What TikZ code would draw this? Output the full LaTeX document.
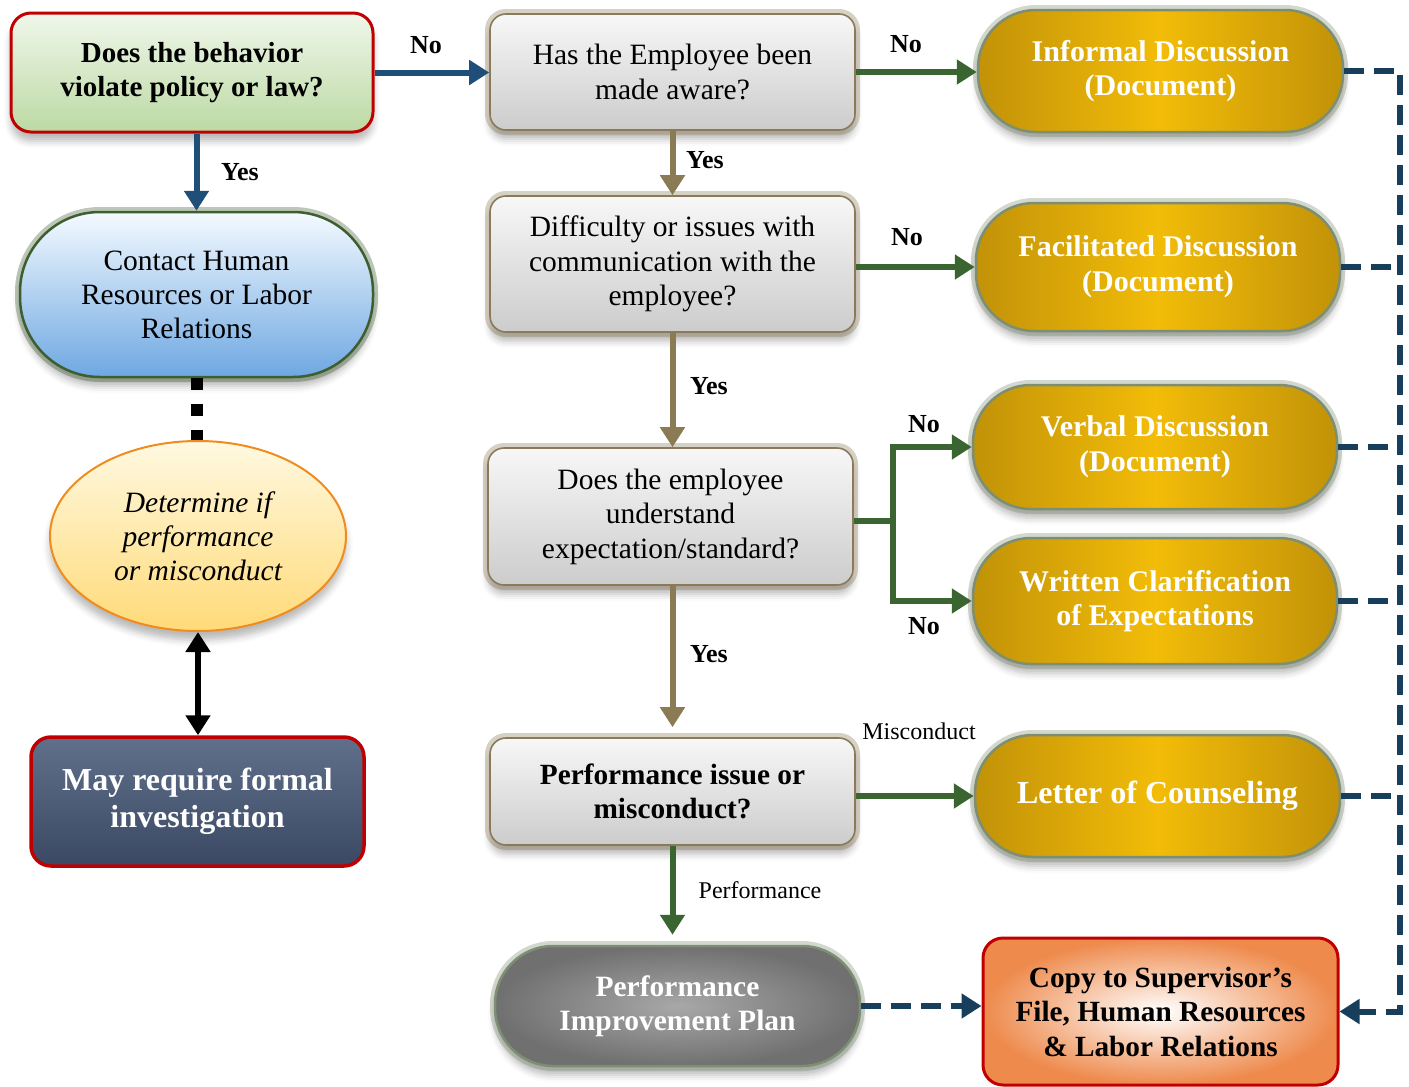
\documentclass[tikz,border=0pt]{standalone}
\usepackage{fontspec}
\setmainfont{Liberation Serif}
\usetikzlibrary{shapes.geometric,arrows.meta,calc,shadows.blur}
\newcommand\fsz[2]{\fontsize{#1}{#2}\selectfont}
\definecolor{redB}{HTML}{C00000}
\definecolor{qB}{HTML}{8A7A5A}
\definecolor{goldD}{HTML}{C29208}
\definecolor{goldL}{HTML}{F2BC08}
\definecolor{glowG}{HTML}{7E8E72}
\definecolor{conG}{HTML}{3E5E30}
\definecolor{arBlue}{HTML}{1F4E79}
\definecolor{arGreen}{HTML}{3B6530}
\definecolor{arBrown}{HTML}{8B7B55}
\definecolor{dashB}{HTML}{173F5C}
\definecolor{aTop}{HTML}{F0F7EB}
\definecolor{aBot}{HTML}{BCD9A3}
\definecolor{cTop}{HTML}{F4FAFF}
\definecolor{cBot}{HTML}{6EA8E2}
\definecolor{eDraw}{HTML}{F08C1E}
\definecolor{eTop}{HTML}{FFF9E1}
\definecolor{eBot}{HTML}{FFDA78}
\definecolor{mTop}{HTML}{60708A}
\definecolor{mBot}{HTML}{3A4864}
\definecolor{pIn}{HTML}{A8A8A8}
\definecolor{pOut}{HTML}{707070}
\definecolor{cpOut}{HTML}{EE8A4C}
\begin{document}
\begin{tikzpicture}[x=1pt,y=-1pt,
  shadowed/.style={blur shadow={shadow xshift=0pt,shadow yshift=-9pt,shadow opacity=28,shadow blur radius=7pt}},
  glow/.style={preaction={draw=#1,line width=10pt,draw opacity=0.35}},
  qbox/.style={rectangle,rounded corners=16pt,draw=qB,line width=1.6pt,top color=white!97!black,bottom color=white!80!black,
     minimum width=365pt,inner sep=0pt,align=center,font=\fsz{29.5}{34.5},shadowed,glow=qB},
  goldpill/.style={rectangle,rounded corners=58pt,draw=glowG,line width=2.5pt,left color=goldD,right color=goldD,middle color=goldL,
     minimum width=364pt,inner sep=0pt,align=center,text=white,font=\bfseries\fsz{30}{34.5},shadowed,glow=glowG},
  lbl/.style={font=\bfseries\fsz{26}{30},inner sep=0pt},
  slbl/.style={font=\fsz{24}{28},inner sep=0pt},
  arr/.style={line width=6pt,-{Triangle[width=24pt,length=20pt]}},
  dsh/.style={line width=6pt,draw=dashB,dash pattern=on 20pt off 10pt},
]
\useasboundingbox (0,0) rectangle (1409,1087);

% ---- left column
\node[rectangle,rounded corners=20pt,draw=redB,line width=3pt,top color=aTop,bottom color=aBot,
  minimum width=362pt,minimum height=119pt,align=center,font=\bfseries\fsz{29}{34},shadowed] (A) at (192,72.5)
  {Does the behavior\\violate policy or law?};
\node[rectangle,rounded corners=80pt,draw=conG,line width=2.5pt,top color=cTop,bottom color=cBot,
  minimum width=353pt,minimum height=165pt,align=center,font=\fsz{29.5}{34},shadowed,glow=conG] (Con) at (196.5,294.5)
  {Contact Human\\Resources or Labor\\Relations};
\node[ellipse,draw=eDraw,line width=2pt,top color=eTop,bottom color=eBot,
  minimum width=296pt,minimum height=190pt,inner sep=0pt,align=center,font=\itshape\fsz{29.5}{34},shadowed] (Ell) at (198,536)
  {Determine if\\performance\\or misconduct};
\node[rectangle,rounded corners=20pt,draw=redB,line width=3.5pt,top color=mTop,bottom color=mBot,
  minimum width=333pt,minimum height=129pt,align=center,text=white,font=\bfseries\fsz{32}{37}] (May) at (197.5,801.5)
  {May require formal\\investigation};

% ---- middle column
\node[qbox,minimum height=116pt] (B) at (672.5,72) {Has the Employee been\\made aware?};
\node[qbox,minimum height=136pt] (C) at (672.5,264) {Difficulty or issues with\\communication with the\\employee?};
\node[qbox,minimum height=137pt] (D) at (670.5,516.5) {Does the employee\\understand\\expectation/standard?};
\node[qbox,minimum height=107pt,font=\bfseries\fsz{29.3}{34}] (E) at (672.5,791.5) {Performance issue or\\misconduct?};
\node[rectangle,rounded corners=58pt,draw=glowG,line width=2.5pt,inner color=pIn,outer color=pOut,
  minimum width=365pt,minimum height=120pt,inner sep=0pt,align=center,text=white,font=\bfseries\fsz{29.5}{33.5},shadowed,glow=glowG] (PIP) at (677.5,1006)
  {Performance\\Improvement Plan};

% ---- right column
\node[goldpill,minimum height=122pt,minimum width=365pt] (Inf) at (1160.5,71) {Informal Discussion\\(Document)};
\node[goldpill,minimum height=128pt] (Fac) at (1158,267) {Facilitated Discussion\\(Document)};
\node[goldpill,minimum height=124pt] (Ver) at (1155,447) {Verbal Discussion\\(Document)};
\node[goldpill,minimum height=126pt] (Wri) at (1155,601) {Written Clarification\\of Expectations};
\node[goldpill,minimum height=122pt,minimum width=365pt,font=\bfseries\fsz{32}{36}] (Let) at (1157.5,796) {Letter of Counseling};
\node[rectangle,rounded corners=20pt,draw=redB,line width=3pt,inner color=white,outer color=cpOut,
  minimum width=355pt,minimum height=147pt,inner sep=0pt,align=center,font=\bfseries\fsz{29.3}{34.5}] (Copy) at (1160.5,1011.5)
  {Copy to Supervisor’s\\File, Human Resources\\\& Labor Relations};

% ---- helper coordinates
\coordinate (bus) at (1400,0);
\coordinate (dbr) at (893,521);

% ---- connectors
\draw[arr,draw=arBlue] (A.east) -- (A.east -| B.west);
\draw[arr,draw=arBlue] (Con.north |- A.south) -- (Con.north);
\draw[arr,draw=arGreen] (B.east) -- (B.east -| Inf.west);
\draw[arr,draw=arBrown] (B.south) -- (C.north);
\draw[arr,draw=arGreen] (C.east |- Fac.west) -- (Fac.west);
\draw[arr,draw=arBrown] (C.south) -- (C.south |- D.north);
\draw[line width=6pt,draw=arGreen] (D.east |- dbr) -- (dbr);
\draw[arr,draw=arGreen] (dbr) |- (Ver.west);
\draw[arr,draw=arGreen] (dbr) |- (Wri.west);
\draw[arr,draw=arBrown] (C.south |- D.south) -- ($(C.south |- E.north)+(0,-10)$);
\draw[arr,draw=arGreen] (E.east |- Let.west) -- (Let.west);
\draw[arr,draw=arGreen] (E.south) -- ($(E.south |- PIP.north)+(0,-10)$);
\draw[line width=12pt,dash pattern=on 12pt off 14pt] (Con.south) -- (Con.south |- Ell.north);
\draw[line width=6pt,{Triangle[width=24pt,length=20pt]}-{Triangle[width=24pt,length=20pt]}] (Ell.south) -- (Ell.south |- May.north);

% dashed documentation bus
\draw[dsh,-{Triangle[width=24pt,length=20pt]}] (Inf.east) -- (Inf.east -| bus) -- (bus |- Copy.east) -- (Copy.east);
\draw[dsh] (Fac.east) -- (Fac.east -| bus);
\draw[dsh] (Ver.east) -- (Ver.east -| bus);
\draw[dsh] (Wri.east) -- (Wri.east -| bus);
\draw[dsh] (Let.east) -- (Let.east -| bus);
\draw[dsh,-{Triangle[width=24pt,length=20pt]}] (PIP.east) -- (PIP.east -| Copy.west);

% ---- labels
\node[lbl] (l1) at (426,45) {No};
\node[lbl] (l2) at (906,44) {No};
\node[lbl] (l3) at (240,172) {Yes};
\node[lbl] (l4) at (705,160) {Yes};
\node[lbl] (l5) at (907,237) {No};
\node[lbl] (l6) at (709,386) {Yes};
\node[lbl] (l7) at (924,424) {No};
\node[lbl] (l8) at (924,626) {No};
\node[lbl] (l9) at (709,654) {Yes};
\node[slbl] (l10) at (919,731) {Misconduct};
\node[slbl] (l11) at (760,890) {Performance};
\end{tikzpicture}
\end{document}
